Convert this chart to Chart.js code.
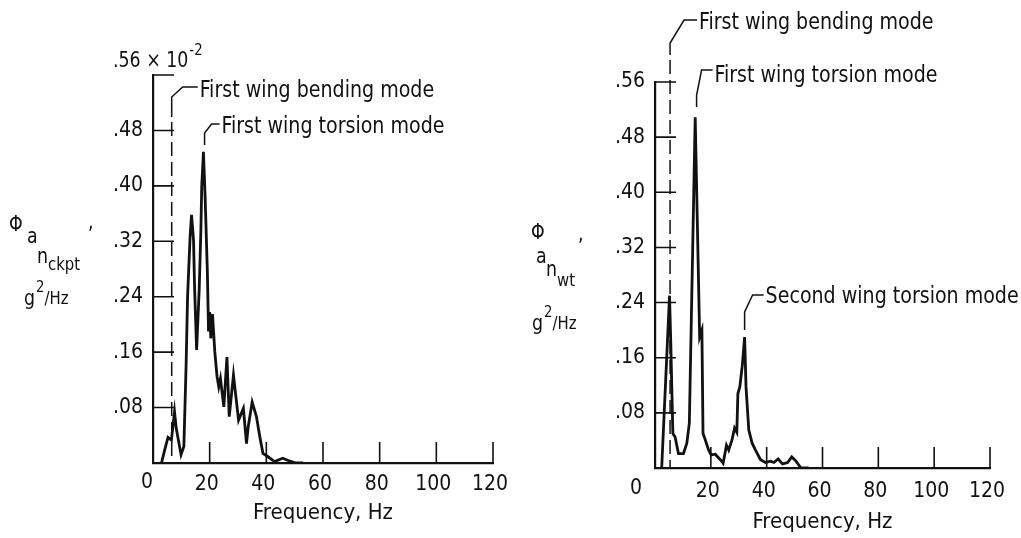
<!DOCTYPE html>
<html>
<head>
<meta charset="utf-8">
<script src="https://cdn.jsdelivr.net/npm/chart.js@4.4.1/dist/chart.umd.min.js"></script>
<style>
  html, body { margin: 0; padding: 0; background: #fff; }
  #wrap { position: relative; width: 1021px; height: 538px; }
  canvas { position: absolute; top: 0; }
  #cL { left: 0; }
  #cR { left: 510px; }
</style>
</head>
<body>
<div id="wrap">
  <canvas id="cL" width="510" height="538"></canvas>
  <canvas id="cR" width="511" height="538"></canvas>
</div>
<script>
// ---- datos ----
const freqTicks = [0, 20, 40, 60, 80, 100, 120];
const psdTicks  = [0, 0.08, 0.16, 0.24, 0.32, 0.40, 0.48, 0.56];

// cockpit (panel izquierdo), unidades de 10^-2 g^2/Hz
const freqCkpt = [3.0, 4.2, 5.3, 6.5, 7.6, 8.2, 9.9, 10.9, 11.7, 12.2, 13.1, 13.6, 14.3, 14.7, 15.4, 16.3,
  16.9, 17.2, 17.8, 18.4, 19.2, 19.6, 20.0, 20.4, 21.0, 21.8, 22.6, 23.2, 23.8, 25.0, 26.1, 26.9, 28.4,
  29.0, 30.2, 31.9, 33.0, 33.6, 35.0, 36.5, 37.7, 38.8, 40.6, 42.9, 45.8, 48.1, 50.4, 53.0];
const psdCkpt  = [0, 0.020, 0.037, 0.033, 0.074, 0.050, 0.012, 0.024, 0.144, 0.240, 0.327, 0.358, 0.322, 0.250, 0.163, 0.250,
  0.336, 0.399, 0.449, 0.384, 0.274, 0.190, 0.218, 0.180, 0.215, 0.161, 0.125, 0.110, 0.122, 0.081, 0.153, 0.067, 0.127,
  0.105, 0.062, 0.079, 0.028, 0.052, 0.088, 0.067, 0.038, 0.014, 0.009, 0.002, 0.007, 0.003, 0, 0];

// punta de ala (panel derecho)
const freqWt = [2.4, 5.2, 5.6, 6.4, 7.2, 8.4, 10.2, 11.4, 12.3, 14.4, 16.0, 16.8, 17.2, 18.0, 19.2, 20.1, 21.6,
  23.4, 24.4, 25.6, 26.4, 27.6, 28.5, 29.3, 29.7, 30.4, 31.3, 32.1, 32.6, 33.6, 34.8, 36.0, 37.8, 39.6, 41.4,
  42.6, 44.1, 45.7, 47.5, 49.0, 50.5, 52.3, 55.0];
const psdWt  = [0, 0.250, 0.190, 0.050, 0.045, 0.021, 0.021, 0.036, 0.065, 0.509, 0.190, 0.200, 0.050, 0.041, 0.026, 0.019, 0.020,
  0.012, 0.007, 0.033, 0.026, 0.041, 0.058, 0.052, 0.108, 0.118, 0.150, 0.190, 0.118, 0.055, 0.036, 0.026, 0.012, 0.008, 0.010,
  0.008, 0.013, 0.006, 0.008, 0.016, 0.010, 0, 0];

const modeNamesCkpt = ['First wing bending mode', 'First wing torsion mode'];
const modeFreqCkpt  = [6.6, 18.2];
const modeNamesWt   = ['First wing bending mode', 'First wing torsion mode', 'Second wing torsion mode'];
const modeFreqWt    = [5.4, 14.9, 32.1];

// ---- estilo ----
const FONT = "'DejaVu Sans Condensed', 'Liberation Sans', sans-serif";
const INK = '#111';
const H = 538;
const AXW = 60;    // ancho fijo del eje y
const SX = 0.92;   // letra un poco mas angosta, como el rotulado original

const fmtPsd = v => v.toFixed(2).replace(/^0/, '');

// texto angosto
function narrowText(ctx, t, x, y) {
  ctx.save();
  ctx.scale(SX, 1);
  ctx.fillText(t, x / SX, y);
  ctx.restore();
  return ctx.measureText(t).width * SX;
}

// marcas hacia adentro (como en el original)
const inTicks = {
  id: 'inTicks',
  afterDraw(chart) {
    const { ctx, scales: { x, y }, chartArea: a } = chart;
    ctx.save();
    ctx.strokeStyle = INK; ctx.lineWidth = 1.6;
    ctx.beginPath();
    x.ticks.forEach(t => {
      if (t.value === 0) return;
      const px = x.getPixelForValue(t.value);
      ctx.moveTo(px, a.bottom); ctx.lineTo(px, a.bottom - 21);
    });
    y.ticks.forEach(t => {
      if (t.value === 0) return;
      const py = y.getPixelForValue(t.value);
      ctx.moveTo(a.left, py); ctx.lineTo(a.left + 21, py);
    });
    ctx.stroke();
    ctx.restore();
  }
};

// textos sueltos: titulo del eje y, "0", etc.
const freeText = {
  id: 'freeText',
  afterDraw(chart, args, o) {
    const ctx = chart.ctx;
    ctx.save();
    ctx.fillStyle = INK; ctx.textAlign = 'left'; ctx.textBaseline = 'alphabetic';
    let cursor = 0;
    (o.items || []).forEach(it => {
      ctx.font = `${it.size}px ${FONT}`;
      const x = it.rel != null ? cursor + it.rel : it.x;
      cursor = x + narrowText(ctx, it.t, x, it.y);
    });
    // "0" del eje x, corrido a la izquierda
    const xs = chart.scales.x, a = chart.chartArea;
    ctx.font = `21px ${FONT}`; ctx.textAlign = 'center'; ctx.textBaseline = 'middle';
    ctx.fillText('0', xs.getPixelForValue(0) + o.zeroDx, a.bottom + o.zeroDy);
    ctx.restore();
  }
};

// llamadas de los modos
const modeNotes = {
  id: 'modeNotes',
  afterDatasetsDraw(chart, args, o) {
    const { ctx, scales: { x }, chartArea: a } = chart;
    ctx.save();
    ctx.strokeStyle = INK; ctx.fillStyle = INK; ctx.lineWidth = 1.5;
    ctx.font = `23px ${FONT}`; ctx.textAlign = 'left'; ctx.textBaseline = 'alphabetic';
    o.notes.forEach(n => {
      const x0 = x.getPixelForValue(n.f);
      const xe = x0 + n.dx, xh = xe + n.hx;
      ctx.setLineDash([]);
      ctx.beginPath();
      ctx.moveTo(x0, n.tip); ctx.lineTo(x0, n.ey); ctx.lineTo(xe, n.hy); ctx.lineTo(xh, n.hy);
      ctx.stroke();
      if (n.dashed) {
        ctx.setLineDash([14, 6]);
        ctx.beginPath(); ctx.moveTo(x0, n.tip + 5); ctx.lineTo(x0, a.bottom); ctx.stroke();
      }
      narrowText(ctx, n.text, xh + 2, n.ty);
    });
    ctx.restore();
  }
};

function buildPanel(id, W, area, xs, ys, cfg) {
  const pts = xs.map((f, i) => ({ x: f, y: ys[i] }));
  const AXH = H - area.bottom;
  return new Chart(document.getElementById(id), {
    type: 'line',
    data: { datasets: [{ data: pts, borderColor: INK, borderWidth: 2.8, pointRadius: 0, tension: 0, fill: false }] },
    options: {
      responsive: false, animation: false, events: [],
      layout: { padding: { left: area.left - AXW, top: area.top, right: W - area.right, bottom: 0 } },
      plugins: {
        legend: { display: false }, tooltip: { enabled: false },
        modeNotes: { notes: cfg.notes },
        freeText: { items: cfg.text, zeroDx: cfg.zeroDx, zeroDy: cfg.zeroDy }
      },
      scales: {
        x: {
          type: 'linear', min: 0, max: 120,
          afterBuildTicks: s => { s.ticks = freqTicks.map(v => ({ value: v })); },
          afterFit: s => { s.height = AXH; s.paddingLeft = 0; s.paddingRight = 0; },
          grid: { display: false, drawTicks: false },
          border: { display: true, color: INK, width: 2.2 },
          ticks: { color: INK, font: { family: FONT, size: 21 }, padding: cfg.xPad, labelOffset: -3,
                   maxRotation: 0, callback: v => (v === 0 ? '' : String(v)) },
          title: { display: true, text: 'Frequency, Hz', color: INK, font: { family: FONT, size: 22 },
                   padding: { top: 0, bottom: cfg.titlePad } }
        },
        y: {
          type: 'linear', min: 0, max: 0.56,
          afterBuildTicks: s => { s.ticks = psdTicks.map(v => ({ value: v })); },
          afterFit: s => { s.width = AXW; s.paddingTop = 0; s.paddingBottom = 0; },
          grid: { display: false, drawTicks: false },
          border: { display: true, color: INK, width: 2.2 },
          ticks: { color: INK, font: { family: FONT, size: 21 }, padding: 10,
                   callback: v => (v === 0 || (cfg.hideTop && v === 0.56) ? '' : fmtPsd(v)) }
        }
      }
    },
    plugins: [inTicks, modeNotes, freeText]
  });
}

// panel izquierdo: cabina
buildPanel('cL', 510, { left: 153, right: 493, top: 75, bottom: 463 }, freqCkpt, psdCkpt, {
  hideTop: true, xPad: 9, titlePad: 12, zeroDx: -6, zeroDy: 20,
  notes: [
    { text: modeNamesCkpt[0], f: modeFreqCkpt[0], tip: 117, ey: 97, hy: 87, dx: 11, hx: 15, ty: 97, dashed: true },
    { text: modeNamesCkpt[1], f: modeFreqCkpt[1], tip: 145, ey: 133, hy: 124, dx: 7, hx: 8, ty: 133 }
  ],
  text: [
    { t: '.56 \u00d7 10', x: 113, y: 67, size: 21 },
    { t: '-2', rel: 1, y: 55, size: 16 },
    { t: '\u03a6', x: 9, y: 231, size: 21 },
    { t: 'a', x: 27, y: 243, size: 21 },
    { t: 'n', x: 37, y: 263, size: 21 },
    { t: 'ckpt', rel: 0, y: 270, size: 18 },
    { t: ',', x: 88, y: 229, size: 21 },
    { t: 'g', x: 24, y: 305, size: 21 },
    { t: '2', rel: 1, y: 292, size: 16 },
    { t: '/Hz', rel: 0, y: 304, size: 18 }
  ]
});

// panel derecho: punta de ala
buildPanel('cR', 511, { left: 145, right: 480, top: 82, bottom: 468 }, freqWt, psdWt, {
  hideTop: false, xPad: 11, titlePad: 3, zeroDx: -19, zeroDy: 21,
  notes: [
    { text: modeNamesWt[0], f: modeFreqWt[0], tip: 55, ey: 43, hy: 20, dx: 14, hx: 13, ty: 29, dashed: true },
    { text: modeNamesWt[1], f: modeFreqWt[1], tip: 107, ey: 95, hy: 70, dx: 5, hx: 11, ty: 82 },
    { text: modeNamesWt[2], f: modeFreqWt[2], tip: 330, ey: 312, hy: 295, dx: 8, hx: 11, ty: 303 }
  ],
  text: [
    { t: '\u03a6', x: 21, y: 239, size: 21 },
    { t: 'a', x: 26, y: 263, size: 21 },
    { t: 'n', x: 36, y: 276, size: 21 },
    { t: 'wt', rel: 0, y: 286, size: 18 },
    { t: ',', x: 68, y: 241, size: 21 },
    { t: 'g', x: 22, y: 330, size: 21 },
    { t: '2', rel: 1, y: 317, size: 16 },
    { t: '/Hz', rel: 0, y: 329, size: 18 }
  ]
});
</script>
</body>
</html>
